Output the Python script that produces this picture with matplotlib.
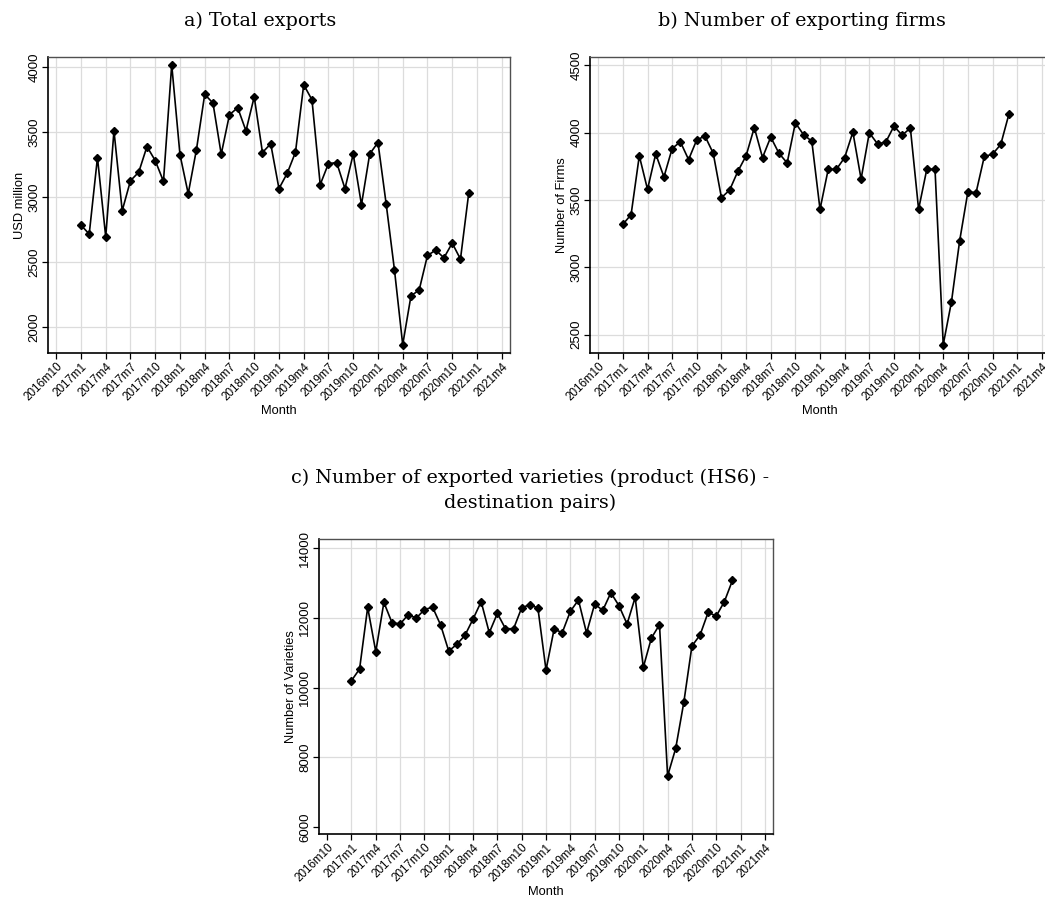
import matplotlib
matplotlib.use("Agg")
import matplotlib.pyplot as plt
import numpy as np

# monthly series, 2017m1 .. 2020m12
months = [f"{y}m{m}" for y in range(2017, 2021) for m in range(1, 13)]

exports = [2785, 2716, 3305, 2695, 3511, 2896, 3127, 3192, 3390, 3282, 3122, 4020,
           3328, 3027, 3367, 3792, 3725, 3331, 3635, 3689, 3511, 3773, 3344, 3411,
           3066, 3184, 3346, 3866, 3750, 3097, 3259, 3266, 3066, 3331, 2942, 3333,
           3421, 2945, 2440, 1864, 2239, 2286, 2551, 2592, 2533, 2646, 2523, 3030]

firms = [3319, 3391, 3828, 3579, 3842, 3671, 3882, 3932, 3800, 3947, 3974, 3847,
         3517, 3574, 3713, 3828, 4038, 3815, 3967, 3847, 3775, 4073, 3984, 3937,
         3431, 3728, 3728, 3815, 4004, 3656, 3999, 3917, 3929, 4048, 3981, 4034,
         3431, 3728, 3728, 2426, 2743, 3197, 3560, 3555, 3823, 3840, 3912, 4138]

varieties = [10198, 10532, 12299, 11029, 12443, 11860, 11822, 12089, 11994, 12233, 12309, 11793,
             11048, 11239, 11497, 11965, 12462, 11573, 12127, 11688, 11688, 12290, 12376, 12280,
             10503, 11678, 11573, 12185, 12510, 11564, 12395, 12213, 12720, 12347, 11822, 12586,
             10580, 11420, 11803, 7465, 8258, 9577, 11191, 11506, 12156, 12051, 12462, 13073]

tick_labels = ["2016m10", "2017m1", "2017m4", "2017m7", "2017m10", "2018m1", "2018m4",
               "2018m7", "2018m10", "2019m1", "2019m4", "2019m7", "2019m10", "2020m1",
               "2020m4", "2020m7", "2020m10", "2021m1", "2021m4"]


def month_index(lab):
    y, m = lab.split("m")
    return (int(y) - 2017) * 12 + int(m) - 1


x = np.array([month_index(m) for m in months])
xticks = [month_index(t) for t in tick_labels]

SANS = "Liberation Sans"
SERIF = "DejaVu Serif"

fig = plt.figure(figsize=(10.45, 8.97), dpi=100)


def panel(rect, y, yticks, ylim, ylabel, right_spine=True, skip_edge_grid=False):
    ax = fig.add_axes(rect)
    ax.plot(x, y, "-", color="black", lw=1.2, marker="D", ms=4,
            mfc="black", mec="black", zorder=3)
    ax.set_xlim(-4, 52)
    ax.set_ylim(*ylim)
    ax.set_xticks(xticks)
    ax.set_xticklabels(tick_labels, rotation=45, ha="right",
                       rotation_mode="anchor", fontsize=8.4, family=SANS)
    ax.set_yticks(yticks)
    ax.set_yticklabels([str(v) for v in yticks], rotation=90, va="center",
                       fontsize=9.5, family=SANS)
    ax.tick_params(direction="out", length=4, width=0.9, pad=1.5)
    # grid drawn by hand so the edge lines can be left out like the original
    gx = xticks[1:] if skip_edge_grid else xticks
    gy = yticks[1:] if skip_edge_grid else yticks
    for v in gx:
        ax.axvline(v, color="#dcdcdc", lw=0.9, zorder=0)
    for v in gy:
        ax.axhline(v, color="#dcdcdc", lw=0.9, zorder=0)
    for s in ("left", "bottom"):
        ax.spines[s].set_color("black")
        ax.spines[s].set_linewidth(1.2)
    for s in ("top", "right"):
        ax.spines[s].set_color("#505050")
        ax.spines[s].set_linewidth(1.0)
    if not right_spine:
        ax.spines["right"].set_visible(False)
    ax.set_xlabel("Month", fontsize=9.3, family=SANS, labelpad=1)
    ax.set_ylabel(ylabel, fontsize=9.3, family=SANS, labelpad=2)
    return ax


panel([0.0459, 0.6065, 0.4421, 0.330], exports, [2000, 2500, 3000, 3500, 4000],
      (1800, 4080), "USD million")
panel([0.5646, 0.6065, 0.4402, 0.330], firms, [2500, 3000, 3500, 4000, 4500],
      (2364, 4562), "Number of Firms", right_spine=False)
panel([0.3053, 0.0702, 0.4344, 0.3289], varieties, [6000, 8000, 10000, 12000, 14000],
      (5800, 14260), "Number of Varieties", skip_edge_grid=True)

fig.text(260 / 1045, 1 - 26 / 897, "a) Total exports", ha="center", va="baseline",
         fontsize=13.8, family=SERIF)
fig.text(802 / 1045, 1 - 26 / 897, "b) Number of exporting firms", ha="center",
         va="baseline", fontsize=13.8, family=SERIF)
fig.text(530 / 1045, 1 - 508 / 897,
         "c) Number of exported varieties (product (HS6) -\ndestination pairs)",
         ha="center", va="baseline", fontsize=13.8, family=SERIF,
         multialignment="center", linespacing=1.45)

fig.savefig("out.png", dpi=100)
